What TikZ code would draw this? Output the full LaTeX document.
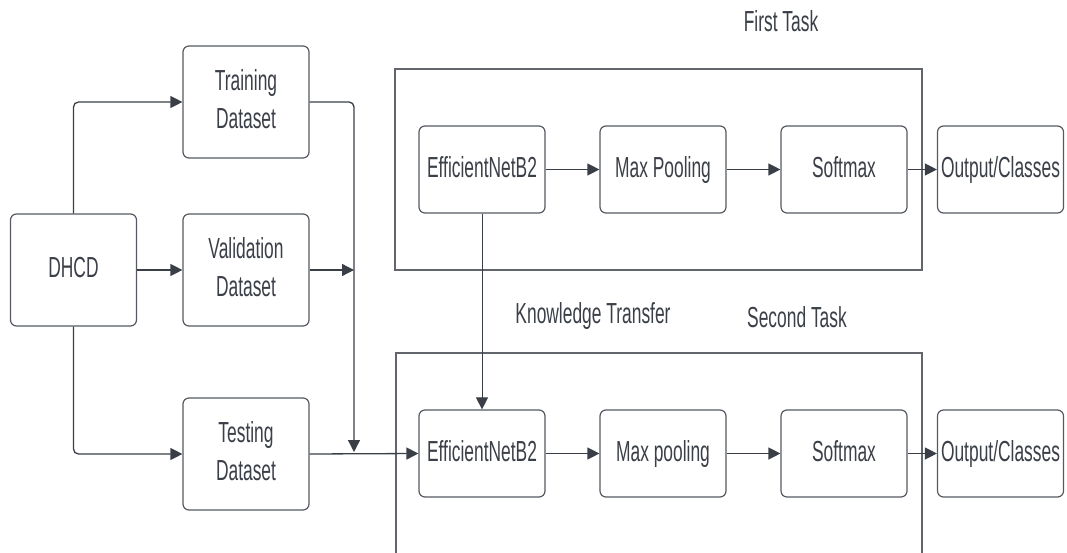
\documentclass[tikz,border=0pt]{standalone}
\usepackage{fontspec}
\setmainfont{Liberation Sans}
\usetikzlibrary{arrows.meta}
\definecolor{linec}{HTML}{3A3F47}
\definecolor{boxc}{HTML}{555A62}
\definecolor{framec}{HTML}{62666C}
\definecolor{txtc}{HTML}{3B3F47}
\newcommand{\sx}[1]{\scalebox{0.6}[1]{\begin{tabular}{@{}c@{}}#1\end{tabular}}}
\newcommand{\lx}[1]{\scalebox{0.6}[1]{#1}}
\tikzset{
  box/.style={draw=boxc, line width=1.2pt, rounded corners=6pt, fill=white,
    minimum width=126pt, minimum height=112pt, inner sep=0pt, text=txtc,
    font=\fontsize{29}{38}\selectfont},
  sbox/.style={box, minimum height=87pt},
  conn/.style={draw=linec, line width=1.3pt, rounded corners=5pt,
    -{Triangle[length=12pt,width=12pt]}},
  frame/.style={draw=framec, line width=1.1pt},
  lbl/.style={text=txtc, font=\fontsize{29}{38}\selectfont, inner sep=0pt, anchor=base}
}
\begin{document}
\begin{tikzpicture}[x=1pt,y=-1pt]
\useasboundingbox (0,0) rectangle (1067,553);
% frames
\draw[frame] (395,69) rectangle (922,270);
\draw[frame] (396,553) -- (396,353) -- (922,353) -- (922,553);
% left column
\node[box] (dhcd) at (73.5,270) {\sx{DHCD}};
\node[box] (train) at (246,102) {\sx{Training\\Dataset}};
\node[box] (val) at (246,270) {\sx{Validation\\Dataset}};
\node[box] (test) at (246,454) {\sx{Testing\\Dataset}};
% first task
\node[sbox] (eff1) at (482,169.5) {\sx{EfficientNetB2}};
\node[sbox] (mp1) at (663,169.5) {\sx{Max Pooling}};
\node[sbox] (sm1) at (844,169.5) {\sx{Softmax}};
\node[sbox] (out1) at (1000.5,169.5) {\sx{Output/Classes}};
% second task
\node[sbox] (eff2) at (482,453.5) {\sx{EfficientNetB2}};
\node[sbox] (mp2) at (663,453.5) {\sx{Max pooling}};
\node[sbox] (sm2) at (844,453.5) {\sx{Softmax}};
\node[sbox] (out2) at (1000.5,453.5) {\sx{Output/Classes}};
% labels
\node[lbl] (t1) at (781,31.7) {\lx{First Task}};
\node[lbl] (kt) at (593,323) {\lx{Knowledge Transfer}};
\node[lbl] (t2) at (797,327) {\lx{Second Task}};
% junctions
\coordinate (vj) at (354,270);
\coordinate (tj) at (354,452);
% connectors
\draw[conn] (dhcd.north) |- (train.west);
\draw[conn] (dhcd.east) -- (val.west);
\draw[conn] (dhcd.south) |- (test.west);
\draw[conn] (train.east) -| (tj);
\draw[conn] (val.east) -- (vj);
\draw[conn] (test.east) -- (eff2.west);
\draw[conn] (eff1.east) -- (mp1.west);
\draw[conn] (mp1.east) -- (sm1.west);
\draw[conn] (sm1.east) -- (out1.west);
\draw[conn] (eff2.east) -- (mp2.west);
\draw[conn] (mp2.east) -- (sm2.west);
\draw[conn] (sm2.east) -- (out2.west);
\draw[conn, line width=0.9pt] (eff1.south) -- (eff2.north);
\end{tikzpicture}
\end{document}
